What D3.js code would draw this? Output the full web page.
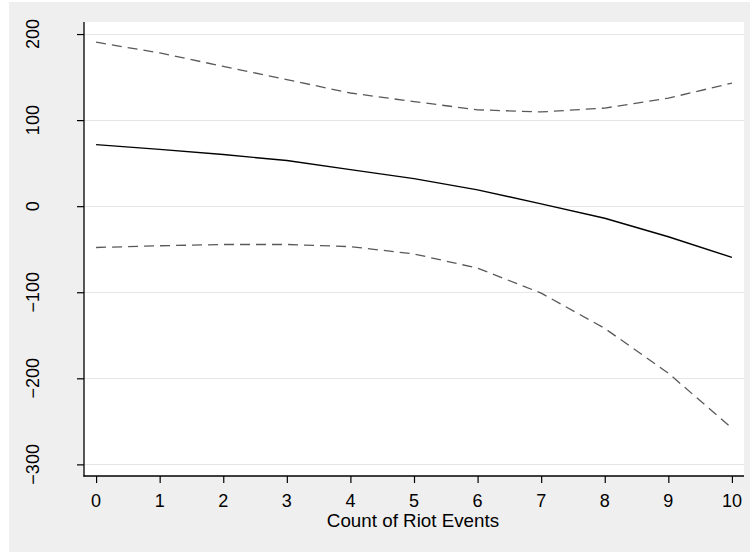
<!DOCTYPE html>
<html>
<head>
<meta charset="utf-8">
<script src="https://cdn.jsdelivr.net/npm/d3@7"></script>
<style>
  html, body { margin: 0; padding: 0; background: #ffffff; }
  svg { display: block; font-family: "Liberation Sans", Arial, sans-serif; }
</style>
</head>
<body>
<svg id="chart" width="755" height="552"></svg>
<script>
// Predicted effect across riot counts, with upper and lower confidence bounds
const riotCounts = [0, 1, 2, 3, 4, 5, 6, 7, 8, 9, 10];
const estimate   = [71.5, 66, 60, 53, 42.5, 32, 19, 2.7, -14, -35.5, -59.5];
const upperBound = [190.5, 178, 162.5, 147, 131.5, 121.5, 112, 109.5, 114, 125.5, 143];
const lowerBound = [-48, -46, -44.5, -44.5, -47, -55.5, -72, -101, -142, -194, -258];
const yTicks = [200, 100, 0, -100, -200, -300];
const xTicks = [0, 1, 2, 3, 4, 5, 6, 7, 8, 9, 10];
const xTitle = "Count of Riot Events";

const svg = d3.select("#chart");
const plot = { left: 84, right: 744, top: 22, bottom: 476 };

// graph region background
svg.append("rect").attr("x", 9).attr("y", 2).attr("width", 741).attr("height", 550)
  .attr("fill", "#efefef");
// plot region
svg.append("rect").attr("x", plot.left).attr("y", plot.top)
  .attr("width", plot.right - plot.left).attr("height", plot.bottom - plot.top)
  .attr("fill", "#ffffff");

const x = d3.scaleLinear().domain([-0.19, 10.19]).range([plot.left, plot.right]);
const y = d3.scaleLinear().domain([-313.5, 214]).range([plot.bottom, plot.top]);

// horizontal gridlines
svg.append("g").selectAll("line").data(yTicks).join("line")
  .attr("x1", plot.left).attr("x2", plot.right)
  .attr("y1", d => Math.round(y(d)) + 0.5).attr("y2", d => Math.round(y(d)) + 0.5)
  .attr("stroke", "#e6e6e6").attr("stroke-width", 1.2);

// y axis
const yAxis = svg.append("g").attr("transform", `translate(${plot.left},0)`)
  .call(d3.axisLeft(y).tickValues(yTicks).tickSize(7).tickFormat(d3.format("d")));
yAxis.select(".domain").remove();
yAxis.selectAll(".tick line").attr("stroke", "#000").attr("stroke-width", 1.2);
yAxis.selectAll(".tick text").remove();
svg.append("line").attr("x1", plot.left).attr("x2", plot.left)
  .attr("y1", plot.top).attr("y2", plot.bottom + 0.6)
  .attr("stroke", "#000").attr("stroke-width", 1.3);
svg.append("g").selectAll("text").data(yTicks).join("text")
  .attr("transform", d => `translate(38.5,${y(d)}) rotate(-90)`)
  .attr("text-anchor", "middle")
  .attr("font-size", 18).attr("fill", "#000")
  .text(d => d3.format("d")(d));

// x axis
const xAxis = svg.append("g").attr("transform", `translate(0,${plot.bottom})`)
  .call(d3.axisBottom(x).tickValues(xTicks).tickSize(7).tickFormat(d3.format("d")));
xAxis.select(".domain").remove();
xAxis.selectAll(".tick line").attr("stroke", "#000").attr("stroke-width", 1.2);
xAxis.selectAll(".tick text").remove();
svg.append("line").attr("x1", plot.left - 0.6).attr("x2", plot.right)
  .attr("y1", plot.bottom).attr("y2", plot.bottom)
  .attr("stroke", "#000").attr("stroke-width", 1.3);
svg.append("g").selectAll("text").data(xTicks).join("text")
  .attr("x", d => x(d)).attr("y", 506.5)
  .attr("text-anchor", "middle")
  .attr("font-size", 18).attr("fill", "#000")
  .text(d => d3.format("d")(d));

svg.append("text").attr("x", (plot.left + plot.right) / 2 - 1).attr("y", 527)
  .attr("text-anchor", "middle").attr("font-size", 18.8).attr("fill", "#000")
  .text(xTitle);

// lines
const line = d3.line().x((d, i) => x(riotCounts[i])).y(d => y(d)).curve(d3.curveLinear);

svg.append("path").datum(upperBound).attr("d", line)
  .attr("fill", "none").attr("stroke", "#595959").attr("stroke-width", 1.3)
  .attr("stroke-dasharray", "10,6");
svg.append("path").datum(lowerBound).attr("d", line)
  .attr("fill", "none").attr("stroke", "#595959").attr("stroke-width", 1.3)
  .attr("stroke-dasharray", "10,6");
svg.append("path").datum(estimate).attr("d", line)
  .attr("fill", "none").attr("stroke", "#000").attr("stroke-width", 1.4);
</script>
</body>
</html>
